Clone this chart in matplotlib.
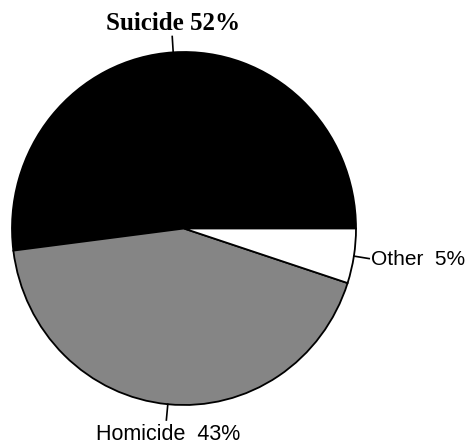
import numpy as np
import matplotlib
matplotlib.use("Agg")
import matplotlib.pyplot as plt

categories = ["Suicide", "Homicide", "Other"]
shares = [52, 43, 5]
colors = ["#000000", "#858585", "#ffffff"]

W, H = 467, 448
fig = plt.figure(figsize=(W / 100, H / 100), dpi=100)
# axes box covering the pie's bounding box (pixels)
left, right, top, bottom = 12, 356, 52, 405
ax = fig.add_axes([left / W, 1 - bottom / H, (right - left) / W, (bottom - top) / H])

wedges, _ = ax.pie(shares, colors=colors, startangle=0, counterclock=True,
                   radius=1.0, center=(0, 0),
                   wedgeprops=dict(edgecolor="black", linewidth=1.3))
ax.set_aspect("auto")
ax.set_xlim(-1, 1)
ax.set_ylim(-1, 1)
ax.axis("off")

label_styles = [
    dict(family="Liberation Serif", weight="bold", fontsize=18, r_text=1.165, ha="center", sep=" "),
    dict(family="Liberation Sans", weight="normal", fontsize=15.5, r_text=1.17, ha="center", sep="  "),
    dict(family="Liberation Sans", weight="normal", fontsize=15, r_text=1.10, ha="left", sep="  "),
]

for w, cat, val, st in zip(wedges, categories, shares, label_styles):
    mid = np.deg2rad((w.theta1 + w.theta2) / 2)
    c, s = np.cos(mid), np.sin(mid)
    ax.plot([c * 1.0, c * 1.09], [s * 1.0, s * 1.09], color="black", lw=1.2,
            clip_on=False)
    if st["ha"] == "left":
        tx, ty = c * st["r_text"], s * 1.0 - 0.02
    else:
        tx, ty = c * 1.0, s * st["r_text"]
    ax.text(tx, ty, f"{cat}{st['sep']}{val}%", ha=st["ha"], va="center",
            fontsize=st["fontsize"], family=st["family"], weight=st["weight"],
            clip_on=False)

fig.savefig("out.png", dpi=100, facecolor="white")
